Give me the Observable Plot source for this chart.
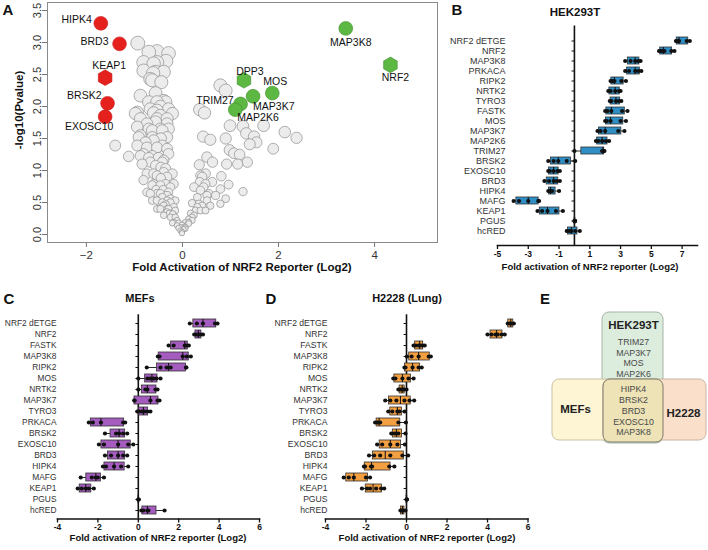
<!DOCTYPE html>
<html><head><meta charset="utf-8">
<script src="https://cdn.jsdelivr.net/npm/d3@7"></script>
<script src="https://cdn.jsdelivr.net/npm/@observablehq/plot@0.6"></script>
<style>
body{margin:0;background:#fff;}
#fig{position:relative;width:708px;height:550px;overflow:hidden;font-family:"Liberation Sans",Arial,sans-serif;color:#111;}
.p{position:absolute;}
.t{position:absolute;white-space:nowrap;transform:translate(-50%,-50%);line-height:1;}
.L{font-weight:bold;font-size:15px;}
.b{font-weight:bold;}
</style></head><body><div id="fig"></div>
<script>
// ---------- Panel A data: volcano plot ----------
const greyPoints = [
[-0.93,2.99],[-0.70,2.85],[-0.53,2.86],[-0.29,2.83],[-0.81,2.69],[-0.53,2.69],[-0.34,2.71],[-0.60,2.67],
[-0.81,2.56],[-0.56,2.54],[-0.39,2.54],[-0.61,2.52],[-0.63,2.41],[-0.44,2.38],[-0.67,2.43],
[-0.875,2.17],[-0.56,2.21],[-0.35,2.07],[-0.70,2.07],[-0.53,2.07],[-0.39,2.09],
[-0.94,1.91],[-0.67,1.96],[-0.53,1.94],[-0.29,1.96],[-0.46,2.0],[-0.60,1.9],
[-0.875,1.81],[-0.53,1.81],[-0.32,1.81],[-0.46,1.86],[-0.21,1.89],[-0.98,1.89],
[-0.74,1.73],[-0.56,1.76],[-0.32,1.73],[-0.94,1.68],[-0.70,1.65],[-0.46,1.65],[-0.29,1.65],[-0.63,1.625],[-0.42,1.625],
[-0.91,1.52],[-0.63,1.52],[-0.32,1.52],[-0.875,1.55],[-0.77,1.44],[-0.60,1.47],[-0.45,1.5],
[-1.40,1.39],[-0.94,1.39],[-0.74,1.36],[-0.53,1.36],[-0.32,1.34],[-0.42,1.39],
[-1.12,1.22],[-0.875,1.23],[-0.63,1.23],[-0.39,1.16],[-0.81,1.26],[-0.29,1.26],[-0.7,1.2],[-0.5,1.2],
[-0.84,1.10],[-0.56,1.08],[-0.35,1.03],[-0.67,1.13],[-0.42,1.13],[-0.45,1.05],
[-0.74,0.95],[-0.53,0.92],[-0.32,0.90],[-0.39,0.97],[-0.21,0.95],[-0.6,0.95],[-0.45,0.88],
[-0.81,0.85],[-0.63,0.77],[-0.46,0.77],[-0.25,0.74],[-0.60,0.79],[-0.35,0.79],[-0.18,0.79],
[-0.74,0.66],[-0.53,0.64],[-0.32,0.61],[-0.67,0.64],[-0.46,0.64],[-0.29,0.66],[-0.55,0.7],[-0.4,0.7],
[-0.63,0.53],[-0.42,0.50],[-0.25,0.50],[-0.53,0.53],[-0.32,0.53],[-0.15,0.53],[-0.25,0.56],[-0.42,0.58],
[-0.53,0.40],[-0.32,0.40],[-0.46,0.40],[-0.29,0.40],[-0.15,0.375],[-0.39,0.45],[-0.18,0.43],[-0.35,0.47],
[-0.39,0.30],[-0.32,0.35],[-0.25,0.27],[-0.15,0.27],[-0.27,0.33],[-0.2,0.32],[-0.21,0.18],[-0.18,0.19],[-0.11,0.22],
[-0.11,0.14],[-0.08,0.10],[-0.08,0.18],[-0.04,0.06],[-0.04,0.11],[-0.01,0.02],[-0.01,0.04],[-0.01,0.15],[0.02,0.08],[0.04,0.12],
[0.06,0.09],[0.06,0.11],[0.06,0.19],[0.13,0.17],[0.13,0.24],[0.13,0.19],[0.17,0.33],[0.20,0.22],[0.20,0.27],[0.24,0.30],
[0.79,2.33],[0.90,2.25],[0.36,1.95],[0.46,1.90],[0.99,1.70],[1.26,1.69],[1.69,1.70],[1.33,1.58],[0.43,1.53],[0.90,1.50],
[1.49,1.53],[2.13,1.60],[2.375,1.51],[0.58,1.48],[1.54,1.44],[0.98,1.32],[1.07,1.27],[1.19,1.25],[1.40,1.41],[1.89,1.34],
[0.51,1.21],[0.625,1.13],[0.92,1.10],[1.15,1.10],[1.35,1.13],[0.35,1.09],[0.375,0.92],[0.48,0.95],[0.81,0.91],[0.96,0.78],
[0.62,0.82],[0.36,0.82],[0.79,0.71],[1.26,0.67],[0.24,0.74],[0.44,0.74],[0.55,0.64],[0.69,0.61],[0.90,0.56],[0.31,0.58],
[0.79,0.48],[0.20,0.49],[0.41,0.45],[0.51,0.53],[0.27,0.375],[0.375,0.375],[0.48,0.375],[0.31,0.43],[0.58,0.45],[0.34,0.48],
[0.41,0.90],[0.48,0.79],[0.375,0.69],[0.51,0.61]
];
const hitGenes  = ["HIPK4","BRD3","KEAP1","BRSK2","EXOSC10","MAP3K8","NRF2","DPP3","MOS","MAP3K7","TRIM27","MAP2K6"];
const hitFold   = [-1.70,-1.31,-1.61,-1.56,-1.61,3.40,4.33,1.28,1.87,1.47,1.21,1.10];
const hitLogP   = [3.30,2.98,2.45,2.05,1.84,3.22,2.65,2.41,2.21,2.16,2.04,1.95];
const hitEffect = ["down","down","down","down","down","up","up","up","up","up","up","up"];
const hitKnown  = [false,false,true,false,false,false,true,true,false,false,false,false];

// ---------- Panel B data: HEK293T ----------
const hekGenes = ["NRF2 dETGE","NRF2","MAP3K8","PRKACA","RIPK2","NRTK2","TYRO3","FASTK","MOS","MAP3K7","MAP2K6","TRIM27","BRSK2","EXOSC10","BRD3","HIPK4","MAFG","KEAP1","PGUS","hcRED"];
const hekValues = [
 [6.6,6.7,6.8,7.3,7.5],[5.5,5.6,5.7,5.85,6.3,6.5],[3.3,3.65,3.95,4.15,4.3],[3.3,3.55,3.95,4.15,4.35],
 [2.35,2.45,2.6,3.05,3.35],[2.2,2.35,2.65,2.9,3.0],[2.3,2.4,2.7,2.9,3.05],[2.0,2.15,2.4,3.1,3.45],
 [2.0,2.1,2.35,3.0,3.35],[1.5,1.7,2.0,2.85,3.25],[1.4,1.55,1.8,2.05,2.25],[0,1.8,1.9,1.95],
 [-1.7,-1.35,-1.05,-0.5,0.05],[-1.7,-1.6,-1.35,-1.1,-0.95],[-1.95,-1.65,-1.35,-1.15,-0.95],[-1.7,-1.6,-1.55,-1.45,-1.0],
 [-3.95,-3.6,-3.0,-2.35,-2.3],[-2.4,-2.1,-1.75,-1.2,-0.75],[0,0.02,0.03,0.05],[-0.5,-0.35,-0.2,0.05,0.35]
];
const hekTicks = [-5,-3,-1,1,3,5,7];

// ---------- Panel C data: MEFs ----------
const mefGenes = ["NRF2 dETGE","NRF2","FASTK","MAP3K8","RIPK2","MOS","NRTK2","MAP3K7","TYRO3","PRKACA","BRSK2","EXOSC10","BRD3","HIPK4","MAFG","KEAP1","PGUS","hcRED"];
const mefValues = [
 [2.55,2.9,3.2,3.8,3.92],[2.77,2.85,2.95,3.0,3.1,3.2],[1.5,1.75,2.3,2.4,2.5],[0.97,1.05,2.2,2.4,2.6],
 [0.42,1.1,1.4,1.6,2.36,2.38],[0.0,0.45,0.6,0.75,0.9,1.1],[0.0,0.35,0.45,0.85,0.95],[-0.2,-0.18,0.6,0.95,1.05],
 [-0.05,0.05,0.2,0.3,0.45,0.6],[-2.45,-2.25,-1.85,-0.75,-0.65],[-1.65,-1.1,-0.95,-0.75,-0.55],[-1.95,-1.7,-1.0,-0.5,-0.25],
 [-1.65,-1.35,-1.0,-0.75,-0.55],[-1.75,-1.6,-1.2,-0.85,-0.5],[-2.85,-2.3,-2.1,-2.0,-1.7],[-3.0,-2.8,-2.6,-2.45,-2.2],
 [0,0.01,0.02],[0.15,0.25,0.45,0.5,1.3]
];
// ---------- Panel D data: H2228 (Lung) ----------
const lungGenes = mefGenes;
const lungValues = [
 [5.0,5.1,5.2,5.3],[4.0,4.2,4.4,4.5,4.7,4.85],[0.35,0.45,0.6,0.7,0.8,0.9],[0.02,0.25,0.6,1.1,1.2],
 [-0.1,-0.05,0.3,0.6,0.75],[-0.65,-0.55,-0.2,0.1,0.35],[-0.4,-0.32,-0.25,-0.18,-0.12,0.0],[-1.05,-0.8,-0.5,-0.1,0.15,0.38],
 [-0.9,-0.7,-0.45,-0.35,-0.1],[-1.55,-1.45,-1.4,-1.3,-0.4,-0.03],[-0.75,-0.6,-0.5,-0.4,-0.05],[-1.45,-1.2,-0.8,-0.45,-0.08],
 [-1.85,-1.6,-1.3,-0.8,-0.2,0.08],[-2.1,-2.05,-1.75,-1.7,-0.85,-0.6],[-3.1,-2.85,-2.6,-2.0,-1.8],[-2.2,-1.95,-1.8,-1.5,-1.25,-1.1],
 [0,0.01,0.02],[-0.3,-0.25,-0.2,-0.15,-0.05]
];
const smallTicks = [-4,-2,0,2,4,6];

// ---------- Panel E data: Venn ----------
const vennSets = ["HEK293T","MEFs","H2228"];
const hekOnlyHits = ["TRIM27","MAP3K7","MOS","MAP2K6"];
const sharedHits = ["HIPK4","BRSK2","BRD3","EXOSC10","MAP3K8"];

// ================= drawing =================
const fig = document.getElementById("fig");
const FONT = '"Liberation Sans", Arial, sans-serif';
function place(node, left, top) { node.classList.add("p"); node.style.left = left + "px"; node.style.top = top + "px"; fig.appendChild(node); }
function label(text, x, y, cls, size, rotate) {
  const d = document.createElement("div"); d.className = "t " + (cls || ""); d.textContent = text;
  d.style.left = x + "px"; d.style.top = y + "px"; if (size) d.style.fontSize = size + "px";
  if (rotate) d.style.transform = "translate(-50%,-50%) rotate(" + rotate + "deg)";
  fig.appendChild(d);
}

// ---- Panel A ----
const grey = greyPoints.map(([x, y]) => ({x, y}));
const hits = hitGenes.map((g, i) => ({gene: g, x: hitFold[i], y: hitLogP[i], effect: hitEffect[i], known: hitKnown[i]}));
const labelPlace = {
  HIPK4: ["end", -9, -4], BRD3: ["end", -11, -2], KEAP1: ["middle", 4, -12], BRSK2: ["end", -6, -8],
  EXOSC10: ["middle", -16, 10], MAP3K8: ["middle", 5, 14], NRF2: ["middle", 5, 13], DPP3: ["middle", 6, -9],
  MOS: ["middle", 3, -11], MAP3K7: ["start", 0, 10], TRIM27: ["end", -7, -3], MAP2K6: ["start", 2, 8]
};
const colorOf = {down: "#e5211d", up: "#5db843"};
const strokeOf = {down: "#c9191a", up: "#3f8d2c"};
const aMarks = [
  Plot.frame({stroke: "#8a8a8a"}),
  Plot.axisX({ticks: [-2, 0, 2, 4], tickSize: 5, tickPadding: 3, fontSize: 11.5, label: null, stroke: "#777", fill: "#333"}),
  Plot.axisY({ticks: d3.range(0, 3.51, 0.5), tickFormat: d3.format(".1f"), tickRotate: -90, tickSize: 5, tickPadding: 2, fontSize: 11, label: null, stroke: "#777", fill: "#333"}),
  Plot.dot(grey, {x: "x", y: "y", r: "y", fill: "#ececec", stroke: "#8e8e8e", strokeWidth: 0.7}),
  Plot.dot(hits.filter(d => !d.known), {x: "x", y: "y", r: 6.9, fill: d => colorOf[d.effect], stroke: d => strokeOf[d.effect], strokeWidth: 0.6}),
  Plot.dot(hits.filter(d => d.known), {x: "x", y: "y", r: 6.8, symbol: "hexagon", fill: d => colorOf[d.effect], stroke: d => strokeOf[d.effect], strokeWidth: 0.6})
];
for (const h of hits) {
  const [anchor, dx, dy] = labelPlace[h.gene];
  aMarks.push(Plot.text([h], {x: "x", y: "y", text: "gene", textAnchor: anchor, dx, dy, fontSize: 10.5, fill: "#111"}));
}
place(Plot.plot({
  width: 440, height: 275, marginLeft: 47, marginRight: 3, marginTop: 2, marginBottom: 33,
  style: {fontFamily: FONT, background: "transparent"},
  x: {domain: [-2.81, 5.31]}, y: {domain: [-0.125, 3.625]},
  r: {type: "linear", domain: [0, 0.5, 1, 2, 3.5], range: [2.6, 3.8, 5, 6.3, 7.3], clamp: true},
  marks: aMarks
}), 0, 0);
label("A", 8, 9, "L");
label("Fold Activation of NRF2 Reporter (Log2)", 242, 268, "b", 11.5);
label("-log10(Pvalue)", 20, 110, "b", 11.5, -90);

// ---- Box panels ----
function gpQuantile(p) {
  return (values) => {
    const s = Array.from(values).sort(d3.ascending), n = s.length, h = (n + 1) * p;
    if (h <= 1) return s[0];
    if (h >= n) return s[n - 1];
    const lo = Math.floor(h);
    return s[lo - 1] + (h - lo) * (s[lo] - s[lo - 1]);
  };
}
const tickShape = {draw(context, l) { context.moveTo(0, 0); context.lineTo(0, -l); }};
function boxPanel({genes, values, color, domain, ticks, width, height, ml, mr, mt, mb, pad, fs}) {
  const rows = genes.flatMap((g, i) => values[i].map(v => ({gene: g, v})));
  return Plot.plot({
    width, height, marginLeft: ml, marginRight: mr, marginTop: mt, marginBottom: mb,
    style: {fontFamily: FONT, background: "transparent"},
    x: {domain},
    y: {domain: genes, paddingInner: 0.3, paddingOuter: 0.15},
    marks: [
      Plot.ruleX([0], {strokeWidth: 1.6, stroke: "#111"}),
      Plot.frame({anchor: "bottom", strokeWidth: 1.6, stroke: "#111"}),
      Plot.axisX({ticks, tickSize: 4, tickPadding: 1, fontSize: 8.5, fontWeight: "bold", label: null, strokeWidth: 1.3, tickFormat: d => String(d), fill: "#111"}),
      Plot.axisY({tickSize: 0, tickPadding: pad, fontSize: fs, label: null, fill: "#333"}),
      Plot.vector(genes, {x: () => 0, y: d => d, length: 2.5, rotate: -90, anchor: "start", shape: tickShape, stroke: "#111", strokeWidth: 1}),
      Plot.ruleY(rows, Plot.groupY({x1: "min", x2: "max"}, {x: "v", y: "gene", stroke: "#111", strokeWidth: 0.9})),
      Plot.barX(rows, Plot.groupY({x1: gpQuantile(0.25), x2: gpQuantile(0.75)}, {x: "v", y: "gene", fill: color, stroke: "#333", strokeWidth: 0.8})),
      Plot.tickX(rows, Plot.groupY({x: "median"}, {x: "v", y: "gene", stroke: "#111", strokeWidth: 1})),
      Plot.dot(rows, {x: "v", y: "gene", r: 2.1, fill: "#111"})
    ]
  });
}
place(boxPanel({genes: hekGenes, values: hekValues, color: "#2f8ec3", domain: [-5, 8], ticks: hekTicks,
  width: 318, height: 275, ml: 107, mr: 11, mt: 25.5, mb: 30, pad: -8, fs: 9}), 390, 0);
label("B", 457, 9, "L");
label("HEK293T", 575, 13, "b", 11.5);
label("Fold activation of NRF2 reporter (Log2)", 590, 267, "b", 9.5);

place(boxPanel({genes: mefGenes, values: mefValues, color: "#a45cbf", domain: [-4, 6], ticks: smallTicks,
  width: 265, height: 270, ml: 57, mr: 6, mt: 34.3, mb: 31.5, pad: 1, fs: 8.4}), 0, 280);
label("C", 9, 298, "L");
label("MEFs", 140, 298, "b", 11);
label("Fold activation of NRF2 reporter (Log2)", 158, 538, "b", 9.5);

place(boxPanel({genes: lungGenes, values: lungValues, color: "#f4a040", domain: [-4, 6], ticks: smallTicks,
  width: 270, height: 270, ml: 60, mr: 7.5, mt: 34.3, mb: 31.5, pad: -2, fs: 8.6}), 265, 280);
label("D", 271, 298, "L");
label("H2228 (Lung)", 407, 298, "b", 11);
label("Fold activation of NRF2 reporter (Log2)", 427, 538, "b", 9.5);

// ---- Panel E: Venn ----
const vennLayout = {
  HEK293T: {x1: 54, x2: 115, y1: 7, y2: 138, fill: "#dcecdd", stroke: "#a7b3a7"},
  MEFs:    {x1: 4,  x2: 115, y1: 74, y2: 135, fill: "#fdf5d4", stroke: "#c9c1a3"},
  H2228:   {x1: 55, x2: 158, y1: 74, y2: 135, fill: "#fae0ca", stroke: "#c9b4a4"}
};
const vennRects = vennSets.map(s => ({set: s, ...vennLayout[s]}));
const core = {x1: 55, x2: 115, y1: 74, y2: 137};
place(Plot.plot({
  width: 160, height: 145, margin: 0, style: {fontFamily: FONT, background: "transparent"},
  x: {domain: [0, 160], axis: null}, y: {domain: [0, 145], range: [0, 145], axis: null},
  marks: [
    Plot.rect(vennRects, {x1: "x1", x2: "x2", y1: "y1", y2: "y2", fill: "fill", stroke: "stroke", rx: 7, strokeWidth: 1}),
    Plot.rect([core], {x1: "x1", x2: "x2", y1: "y1", y2: "y2", fill: "#ede3b6", stroke: "#7d7a6a", rx: 7, strokeWidth: 1}),
    Plot.text([hekOnlyHits.join("\n")], {x: 85, y: 52, lineHeight: 1.22, fontSize: 8.8, fill: "#4a4a4a"}),
    Plot.text([sharedHits.join("\n")], {x: 85, y: 105, lineHeight: 1.22, fontSize: 8.8, fill: "#4a4a4a"}),
    Plot.text([vennSets[0]], {x: 85, y: 20, fontSize: 11.5, fontWeight: "bold", fill: "#222"}),
    Plot.text([vennSets[1]], {x: 27, y: 104, fontSize: 11.5, fontWeight: "bold", fill: "#222"}),
    Plot.text([vennSets[2]], {x: 135, y: 108, fontSize: 11.5, fontWeight: "bold", fill: "#222"})
  ]
}), 548, 305);
label("E", 545, 298, "L");
</script></body></html>
